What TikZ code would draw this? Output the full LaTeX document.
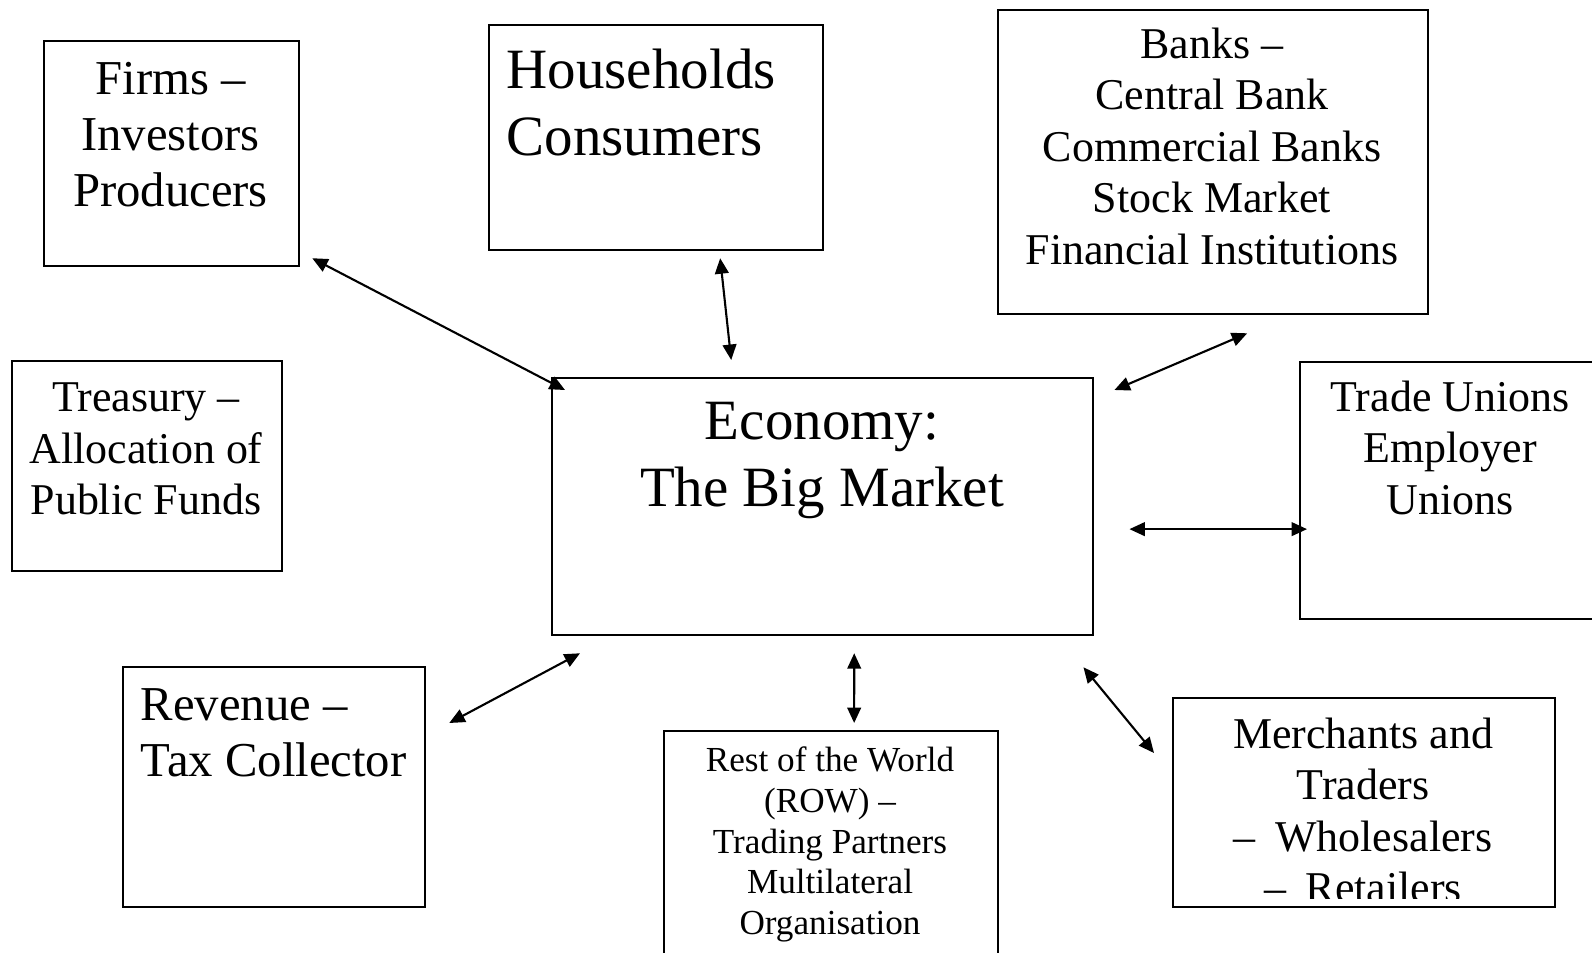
\documentclass[tikz,border=0pt]{standalone}
\usepackage{fontspec}
\setmainfont{Liberation Serif}
\usetikzlibrary{arrows.meta,calc}

\begin{document}
\begin{tikzpicture}[x=0.01cm, y=-0.01cm,
    box/.style={draw, line width=0.6pt, inner sep=0pt, anchor=north west},
    txt/.style={inner sep=0pt, anchor=north, align=center},
    link/.style={{Triangle[length=4.4pt,width=3.9pt]}-{Triangle[length=4.4pt,width=3.9pt]}, line width=0.6pt},
    hugefont/.style={font=\fontsize{16.2pt}{19.2pt}\selectfont},
    largefont/.style={font=\fontsize{13.85pt}{15.9pt}\selectfont},
    normfont/.style={font=\fontsize{12.5pt}{14.65pt}\selectfont},
    smallfont/.style={font=\fontsize{10pt}{11.6pt}\selectfont}]

    % Page
    \clip (0,0) rectangle (1592,952);

    % The market in the middle
    \node[box, minimum width=5.41cm, minimum height=2.57cm] (econ) at (551,377) {};
    \node[txt, hugefont] (econ-txt) at (822,401) {Economy:\\The Big Market};

    % Sectors around it
    \node[box, minimum width=2.55cm, minimum height=2.25cm] (firms) at (43,40) {};
    \node[txt, largefont] (firms-txt) at (170.5,62) {Firms --\\Investors\\Producers};

    \node[box, minimum width=3.34cm, minimum height=2.25cm] (house) at (488,24) {};
    \node[txt, hugefont, anchor=north west, align=left] (house-txt) at (506,48) {Households\\Consumers};

    \node[box, minimum width=4.30cm, minimum height=3.04cm] (banks) at (997,9) {};
    \node[txt, normfont] (banks-txt) at (1212,27)
        {Banks --\\Central Bank\\Commercial Banks\\Stock Market\\Financial Institutions};

    \node[box, minimum width=2.70cm, minimum height=2.10cm] (treasury) at (11,360) {};
    \node[txt, normfont] (treasury-txt) at (146,382) {Treasury --\\Allocation of\\Public Funds};

    \node[box, minimum width=3.02cm, minimum height=2.57cm] (unions) at (1299,361) {};
    \node[txt, normfont] (unions-txt) at (1450,380) {Trade Unions\\Employer\\Unions};

    \node[box, minimum width=3.02cm, minimum height=2.40cm] (revenue) at (122,666) {};
    \node[txt, largefont, anchor=north west, align=left] (revenue-txt) at (140,688) {Revenue --\\Tax Collector};

    \node[box, minimum width=3.34cm, minimum height=2.80cm] (world) at (663,730) {};
    \node[txt, smallfont] (world-txt) at (830,746)
        {Rest of the World\\(ROW) --\\Trading Partners\\Multilateral\\Organisation};

    \node[box, minimum width=3.82cm, minimum height=2.09cm] (traders) at (1172,697) {};
    \begin{scope}
        \clip (1172,697) rectangle (1554,898);
        \node[txt, normfont] (traders-txt) at (1363,717)
            {Merchants and\\Traders\\--\hspace{0.45em}Wholesalers\\--\hspace{0.45em}Retailers};
    \end{scope}

    % Two-way links
    \draw[link] ([shift={(12,-9)}]firms.south east) -- ([shift={(14,13)}]econ.north west);
    \draw[link] ([shift={(64,7)}]house.south) -- ([shift={(-91.5,-17)}]econ.north);
    \draw[link] ([shift={(34,18)}]banks.south) -- ([shift={(20,13)}]econ.north east);
    \draw[link] ([shift={(35,22.5)}]econ.east) -- ([shift={(8,38.5)}]unions.west);
    \draw[link] ([shift={(-11,31)}]econ.south east) -- ([shift={(-18,56)}]traders.north west);
    \draw[link] ([shift={(31.5,17)}]econ.south) -- ([shift={(23,-7)}]world.north);
    \draw[link] ([shift={(29,17)}]econ.south west) -- ([shift={(23,57)}]revenue.north east);

\end{tikzpicture}
\end{document}
